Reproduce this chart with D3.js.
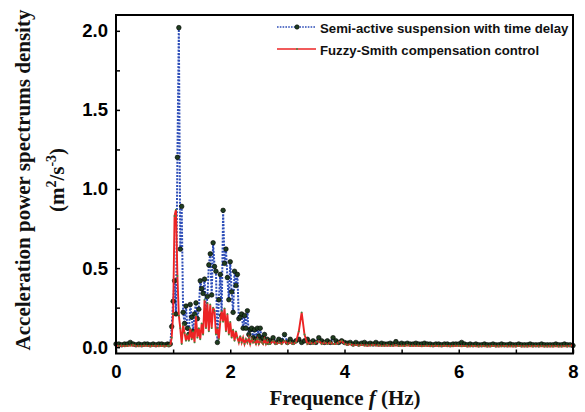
<!DOCTYPE html>
<html><head><meta charset="utf-8">
<script src="https://cdn.jsdelivr.net/npm/d3@7"></script>
<style>body{margin:0;background:#fff}</style>
</head><body>
<svg id="c" width="585" height="412"></svg>
<script>
// Frequency bins (Hz)
const freq = [
0,0.05,0.1,0.15,0.2,0.25,0.3,0.35,0.4,0.45,0.5,0.55,0.6,0.65,0.7,0.75,0.8,0.85,
0.9,0.925,0.95,0.975,1.0,1.025,1.05,1.075,1.1,1.125,
1.15,1.175,1.2,1.225,1.25,1.275,1.3,1.325,1.35,1.375,
1.4,1.425,1.45,1.475,1.5,1.525,1.55,1.575,1.6,1.625,
1.65,1.675,1.7,1.725,1.75,1.775,1.8,1.825,1.85,1.875,
1.9,1.925,1.95,1.975,2.0,2.025,2.05,2.075,2.1,2.125,
2.15,2.175,2.2,2.225,2.25,2.275,2.3,2.325,2.35,2.375,
2.4,2.425,2.45,2.475,2.5,2.525,2.55,2.575,2.6,2.625,
2.65,2.675,
2.7,2.75,2.8,2.85,2.9,2.95,3.0,3.05,3.1,3.15,
3.2,3.25,3.3,3.35,3.4,3.45,3.5,3.55,3.6,3.65,
3.7,3.75,3.8,3.85,3.9,3.95,4.0,4.05,4.1,4.15,
4.2,4.25,4.3,4.35,4.4,4.45,4.5,4.55,4.6,4.65,
4.7,4.75,4.8,4.85,4.9,4.95,5.0,5.05,5.1,5.15,
5.2,5.25,5.3,5.35,5.4,5.45,5.5,5.55,5.6,5.65,
5.7,5.75,5.8,5.85,5.9,5.95,6.0,6.05,6.1,6.15,
6.2,6.25,6.3,6.35,6.4,6.45,6.5,6.55,6.6,6.65,
6.7,6.75,6.8,6.85,6.9,6.95,7.0,7.05,7.1,7.15,
7.2,7.25,7.3,7.35,7.4,7.45,7.5,7.55,7.6,7.65,
7.7,7.75,7.8,7.85,7.9,7.95,8.0];

// Semi-active suspension with time delay
const semiActive = [
0.02,0.02,0.015,0.02,0.02,0.03,0.02,0.015,0.02,0.015,0.02,0.02,0.015,0.02,0.015,0.02,0.02,0.015,
0.02,0.015,0.02,0.13,0.29,0.42,0.21,1.2,2.02,0.62,
0.89,0.22,0.15,0.26,0.12,0.08,0.27,0.19,0.1,0.21,
0.28,0.18,0.24,0.42,0.37,0.34,0.43,0.22,0.32,0.52,
0.59,0.33,0.66,0.51,0.48,0.03,0.30,0.46,0.2,0.865,
0.53,0.62,0.44,0.3,0.54,0.35,0.22,0.48,0.39,0.46,
0.18,0.19,0.21,0.12,0.2,0.12,0.23,0.08,0.11,0.12,
0.06,0.11,0.05,0.12,0.07,0.12,0.05,0.06,0.08,0.04,
0.05,0.03,
0.04,0.06,0.03,0.05,0.04,0.08,0.03,0.05,0.03,0.04,
0.05,0.03,0.04,0.05,0.03,0.04,0.03,0.06,0.04,0.03,
0.04,0.03,0.06,0.04,0.03,0.04,0.03,0.025,0.03,0.02,
0.03,0.02,0.025,0.03,0.02,0.025,0.02,0.03,0.02,0.025,
0.02,0.02,0.025,0.02,0.035,0.02,0.025,0.02,0.025,0.02,
0.02,0.025,0.02,0.02,0.025,0.02,0.02,0.015,0.02,0.02,
0.015,0.02,0.02,0.015,0.02,0.02,0.02,0.03,0.02,0.015,
0.02,0.015,0.02,0.015,0.015,0.02,0.015,0.015,0.02,0.015,
0.015,0.02,0.015,0.015,0.02,0.015,0.015,0.02,0.015,0.015,
0.015,0.02,0.015,0.015,0.015,0.02,0.015,0.015,0.015,0.015,
0.02,0.015,0.015,0.02,0.015,0.015,0.01];

// Fuzzy-Smith compensation control
const fuzzySmith = [
0.01,0.008,0.01,0.006,0.008,0.01,0.012,0.008,0.006,0.008,0.01,0.008,0.006,0.008,0.01,0.006,0.008,0.006,
0.008,0.01,0.01,0.06,0.21,0.83,0.87,0.45,0.2,0.12,
0.02,0.14,0.09,0.04,0.08,0.04,0.12,0.05,0.1,0.03,
0.2,0.06,0.12,0.05,0.15,0.08,0.3,0.12,0.28,0.1,
0.27,0.12,0.25,0.23,0.08,0.12,0.05,0.16,0.23,0.16,
0.245,0.1,0.21,0.08,0.16,0.06,0.11,0.04,0.1,0.06,
0.03,0.07,0.03,0.06,0.02,0.05,0.03,0.06,0.02,0.05,
0.03,0.04,0.02,0.05,0.02,0.04,0.03,0.02,0.05,0.02,
0.04,0.02,
0.02,0.04,0.02,0.03,0.02,0.04,0.02,0.03,0.02,0.03,
0.1,0.22,0.08,0.02,0.03,0.02,0.03,0.04,0.02,0.03,
0.02,0.03,0.02,0.02,0.03,0.04,0.02,0.015,0.02,0.01,
0.015,0.01,0.015,0.01,0.012,0.01,0.015,0.01,0.012,0.008,
0.01,0.012,0.008,0.01,0.012,0.008,0.01,0.008,0.012,0.008,
0.01,0.008,0.01,0.006,0.008,0.01,0.006,0.008,0.01,0.006,
0.008,0.01,0.006,0.008,0.006,0.01,0.008,0.006,0.008,0.006,
0.005,0.008,0.006,0.005,0.008,0.006,0.005,0.006,0.008,0.005,
0.006,0.005,0.008,0.006,0.005,0.006,0.005,0.008,0.005,0.006,
0.005,0.006,0.005,0.008,0.005,0.006,0.005,0.005,0.006,0.005,
0.006,0.005,0.005,0.006,0.005,0.008,0.012];

const seriesNames = ["Semi-active suspension with time delay", "Fuzzy-Smith compensation control"];
const xTicks = [0,1,2,3,4,5,6,7,8];
const yTicks = [0,0.25,0.5,0.75,1,1.25,1.5,1.75,2];

const svg = d3.select("#c");
const L = 116, R = 573, T = 15, B = 353.5;
const x = d3.scaleLinear().domain([0, 8]).range([L, R]);
const y = d3.scaleLinear().domain([-0.04, 2.1]).range([B, T]);

const blueData = freq.map((f, i) => [f, semiActive[i]]);
const redData = freq.map((f, i) => [f, fuzzySmith[i]]);
const line = d3.line().x(d => x(d[0])).y(d => y(d[1]));

const plot = svg.append("g");
plot.append("path").datum(blueData).attr("d", line)
  .attr("fill", "none").attr("stroke", "#2d4db8").attr("stroke-width", 2)
  .attr("stroke-dasharray", "2,1.3");
plot.selectAll(".bm").data(blueData).enter().append("circle")
  .attr("cx", d => x(d[0])).attr("cy", d => y(d[1])).attr("r", 2.3)
  .attr("fill", "#1f3d1f").attr("stroke", "#000").attr("stroke-width", 0.6);
plot.append("path").datum(redData).attr("d", line)
  .attr("fill", "none").attr("stroke", "#ec2424").attr("stroke-width", 1.9);
plot.selectAll(".rm").data(redData).enter().append("circle")
  .attr("cx", d => x(d[0])).attr("cy", d => y(d[1])).attr("r", 0.9)
  .attr("fill", "#3d8a3d");

// axes
const fmtY = d => (Math.abs(d * 2 - Math.round(d * 2)) < 1e-9) ? d3.format(".1f")(d) : "";
const fmtX = d => (d % 2 === 0) ? String(d) : "";
const yAxis = svg.append("g").attr("transform", `translate(${L},0)`)
  .call(d3.axisLeft(y).tickValues(yTicks).tickFormat(fmtY).tickSizeInner(-4).tickSizeOuter(0).tickPadding(8));
const xAxis = svg.append("g").attr("transform", `translate(0,${B})`)
  .call(d3.axisBottom(x).tickValues(xTicks).tickFormat(fmtX).tickSizeInner(-4).tickSizeOuter(0).tickPadding(11));
[yAxis, xAxis].forEach(a => {
  a.select(".domain").remove();
  a.selectAll(".tick line").attr("stroke", "#000").attr("stroke-width", 1.5);
  a.selectAll("text").attr("font-family", "Liberation Sans, Arial, sans-serif")
    .attr("font-weight", "bold").attr("font-size", 18.5).attr("fill", "#000");
});
svg.append("rect").attr("x", L).attr("y", T).attr("width", R - L).attr("height", B - T)
  .attr("fill", "none").attr("stroke", "#000").attr("stroke-width", 2);

// axis titles
const xt = svg.append("text").attr("x", 345).attr("y", 405).attr("text-anchor", "middle")
  .attr("font-family", "Liberation Serif, Times New Roman, serif").attr("font-weight", "bold")
  .attr("font-size", 21).attr("fill", "#111");
xt.append("tspan").text("Frequence ");
xt.append("tspan").attr("font-style", "italic").text("f");
xt.append("tspan").text(" (Hz)");

const yt = svg.append("g").attr("transform", "translate(29.5,180) rotate(-90)");
yt.append("text").attr("text-anchor", "middle")
  .attr("font-family", "Liberation Serif, Times New Roman, serif").attr("font-weight", "bold")
  .attr("font-size", 21).attr("fill", "#111").text("Acceleration power spectrums density");
const yt2 = yt.append("text").attr("y", 34).attr("text-anchor", "middle")
  .attr("font-family", "Liberation Serif, Times New Roman, serif").attr("font-weight", "bold")
  .attr("font-size", 21).attr("fill", "#111");
yt2.append("tspan").text("(m");
yt2.append("tspan").attr("dy", -8).attr("font-size", 14).text("2");
yt2.append("tspan").attr("dy", 8).text("/s");
yt2.append("tspan").attr("dy", -8).attr("font-size", 14).text("-3");
yt2.append("tspan").attr("dy", 8).text(")");

// legend
const lg = svg.append("g");
const rows = [{y: 27, name: seriesNames[0], type: "blue"}, {y: 49, name: seriesNames[1], type: "red"}];
rows.forEach(r => {
  if (r.type === "blue") {
    lg.append("line").attr("x1", 277).attr("x2", 316).attr("y1", r.y).attr("y2", r.y)
      .attr("stroke", "#2d4db8").attr("stroke-width", 1.6).attr("stroke-dasharray", "1.6,1.2");
    lg.append("circle").attr("cx", 297).attr("cy", r.y).attr("r", 2.2)
      .attr("fill", "#1f3d1f").attr("stroke", "#000").attr("stroke-width", 0.6);
  } else {
    lg.append("line").attr("x1", 277).attr("x2", 316).attr("y1", r.y).attr("y2", r.y)
      .attr("stroke", "#ec2424").attr("stroke-width", 1.6);
    lg.append("circle").attr("cx", 297).attr("cy", r.y).attr("r", 0.9).attr("fill", "#3d8a3d");
  }
  lg.append("text").attr("x", 320).attr("y", r.y + 5.5)
    .attr("font-family", "Liberation Sans, Arial, sans-serif").attr("font-weight", "bold")
    .attr("font-size", 13.2).attr("fill", "#111").text(r.name);
});
</script>
</body></html>
